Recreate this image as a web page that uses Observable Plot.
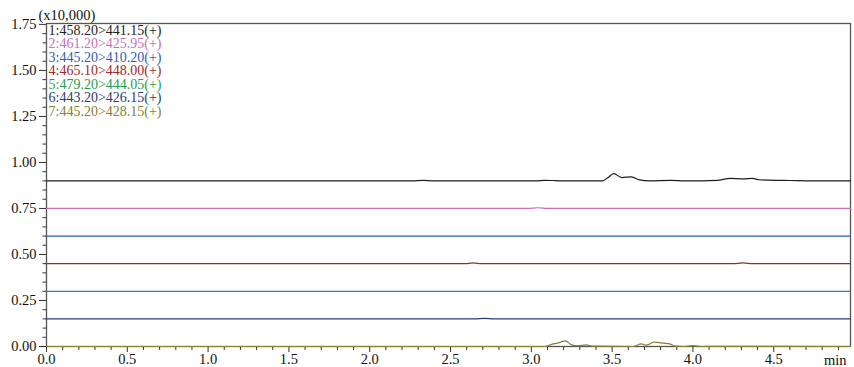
<!DOCTYPE html>
<html>
<head>
<meta charset="utf-8">
<script src="https://cdn.jsdelivr.net/npm/d3@7"></script>
<script src="https://cdn.jsdelivr.net/npm/@observablehq/plot@0.6"></script>
<style>
  html, body { margin: 0; padding: 0; background: #fff; }
</style>
</head>
<body>
<div id="chart"></div>
<script>
// ---- data (intensity x10,000, channels are offset vertically) ----
const legendLabels = [
  "1:458.20>441.15(+)",
  "2:461.20>425.95(+)",
  "3:445.20>410.20(+)",
  "4:465.10>448.00(+)",
  "5:479.20>444.05(+)",
  "6:443.20>426.15(+)",
  "7:445.20>428.15(+)"
];
const colors = ["#1e1e1e", "#c870b8", "#2d5fb5", "#a0282a", "#1f9e4f", "#2d3a7a", "#858033"];
const offsets = [0.90, 0.75, 0.60, 0.45, 0.30, 0.15, 0.00];

const s1T = [0, 2.26, 2.33, 2.40, 3.03, 3.08, 3.13, 3.18, 3.44, 3.47, 3.51, 3.56, 3.62, 3.67, 3.73, 3.86, 3.95, 4.15, 4.23, 4.31, 4.37, 4.41, 4.47, 4.60, 4.75, 4.975];
const s1V = [0, 0, 0.003, 0, 0, 0.003, 0.002, 0, 0, 0.015, 0.039, 0.018, 0.022, 0.005, 0, 0.003, 0, 0.003, 0.014, 0.011, 0.013, 0.006, 0.004, 0.002, 0, 0];
const s2T = [0, 2.98, 3.04, 3.10, 4.975];
const s2V = [0, 0, 0.004, 0, 0];
const s3T = [0, 4.975];
const s3V = [0, 0];
const s4T = [0, 2.59, 2.64, 2.69, 4.25, 4.31, 4.37, 4.975];
const s4V = [0, 0, 0.004, 0, 0, 0.004, 0, 0];
const s5T = [0, 4.975];
const s5V = [0, 0];
const s6T = [0, 2.65, 2.71, 2.77, 4.975];
const s6V = [0, 0, 0.003, 0, 0];
const s7T = [0, 3.08, 3.13, 3.16, 3.21, 3.25, 3.29, 3.34, 3.38, 3.63, 3.68, 3.71, 3.76, 3.82, 3.86, 3.89, 3.95, 4.00, 4.05, 4.12, 4.975];
const s7V = [0, 0, 0.013, 0.018, 0.031, 0.009, 0.004, 0.009, 0.002, 0, 0.014, 0.007, 0.024, 0.018, 0.013, 0.002, 0, 0.005, 0, 0.001, 0];

const xTicks = [0, 0.5, 1.0, 1.5, 2.0, 2.5, 3.0, 3.5, 4.0, 4.5];
const xMinor = [0.1,0.2,0.3,0.4,0.6,0.7,0.8,0.9,1.1,1.2,1.3,1.4,1.6,1.7,1.8,1.9,2.1,2.2,2.3,2.4,2.6,2.7,2.8,2.9,3.1,3.2,3.3,3.4,3.6,3.7,3.8,3.9,4.1,4.2,4.3,4.4,4.6,4.7,4.8,4.9];
const yTicks = [0, 0.25, 0.5, 0.75, 1.0, 1.25, 1.5, 1.75];
const yMinor = [0.05,0.1,0.15,0.2,0.3,0.35,0.4,0.45,0.55,0.6,0.65,0.7,0.8,0.85,0.9,0.95,1.05,1.1,1.15,1.2,1.3,1.35,1.4,1.45,1.55,1.6,1.65,1.7];

const seriesT = [s1T, s2T, s3T, s4T, s5T, s6T, s7T];
const seriesV = [s1V, s2V, s3V, s4V, s5V, s6V, s7V];

const series = seriesT.map((ts, i) => ts.map((t, j) => ({t, y: offsets[i] + seriesV[i][j]})));

const font = "Liberation Serif";
const fs = 14.5;

const marks = [
  Plot.axisX({ticks: xMinor, tickSize: 4, text: null, stroke: "#333"}),
  Plot.axisX({ticks: xTicks, tickSize: 6, tickPadding: 1, tickFormat: d => d.toFixed(1), stroke: "#333", fill: "#111"}),
  Plot.axisY({ticks: yMinor, tickSize: 3.5, text: null, stroke: "#333"}),
  Plot.axisY({ticks: yTicks, tickSize: 7, tickPadding: 3, tickFormat: d => d.toFixed(2), stroke: "#333", fill: "#111"}),
  Plot.frame({stroke: "#555", strokeWidth: 1.3}),
  ...series.map((d, i) => Plot.line(d, {x: "t", y: "y", stroke: colors[i], strokeWidth: 1.2, curve: "monotone-x"})),
  ...legendLabels.map((l, i) => Plot.text([l], {
    frameAnchor: "top-left", dx: 2, dy: 7 + i * 13.5,
    textAnchor: "start", lineAnchor: "middle", fill: colors[i], fontSize: 14
  })),
  Plot.text(["(x10,000)"], {frameAnchor: "top-left", dx: -8, dy: -8, textAnchor: "start", lineAnchor: "middle", fill: "#111", fontSize: fs}),
  Plot.text(["min"], {frameAnchor: "bottom-right", dx: -4, dy: 14, textAnchor: "end", lineAnchor: "middle", fill: "#111", fontSize: fs})
];

const chart = Plot.plot({
  width: 854,
  height: 367,
  marginLeft: 46,
  marginRight: 4,
  marginTop: 23,
  marginBottom: 21,
  x: {domain: [0, 4.975], label: null},
  y: {domain: [0, 1.755], label: null},
  style: {fontFamily: font, fontSize: fs + "px", background: "#fff", color: "#111"},
  marks
});
document.getElementById("chart").appendChild(chart);
</script>
</body>
</html>
